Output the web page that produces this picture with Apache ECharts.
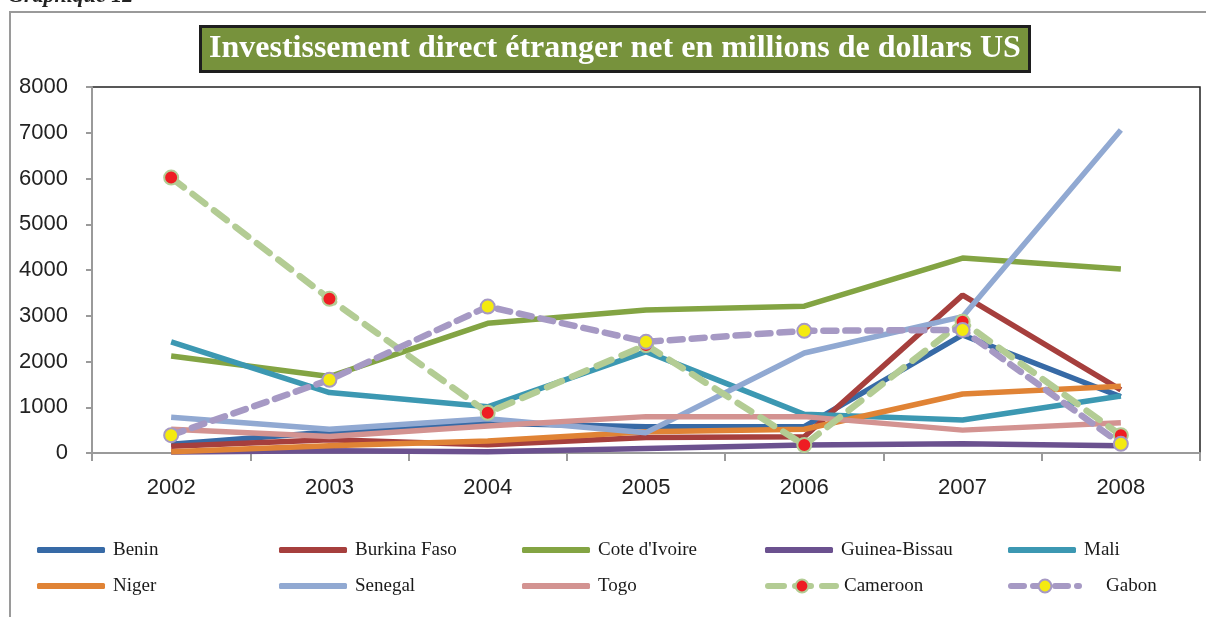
<!DOCTYPE html>
<html>
<head>
<meta charset="utf-8">
<script src="https://cdn.jsdelivr.net/npm/echarts@6/dist/echarts.min.js"></script>
<style>
  html, body { margin: 0; padding: 0; background: #fff; }
  #chart { width: 1206px; height: 617px; }
</style>
</head>
<body>
<div id="chart"></div>
<script>
// years on the x axis
const years = ['2002', '2003', '2004', '2005', '2006', '2007', '2008'];

// net FDI, millions USD
const benin = [190, 460, 650, 575, 575, 2580, 1230];
const burkinaFaso = [150, 290, 180, 340, 355, 3450, 1380];
const coteIvoire = [2120, 1670, 2835, 3125, 3210, 4260, 4020];
const guineaBissau = [20, 50, 25, 100, 175, 200, 160];
const mali = [2430, 1320, 1010, 2215, 845, 720, 1245];
const niger = [30, 160, 260, 465, 520, 1290, 1460];
const senegal = [780, 520, 750, 445, 2185, 2980, 7060];
const togo = [520, 360, 590, 795, 795, 500, 660];
const cameroon = [6020, 3370, 880, 2360, 175, 2870, 390];
const gabon = [390, 1600, 3200, 2430, 2670, 2690, 200];

const yTicks = [0, 1000, 2000, 3000, 4000, 5000, 6000, 7000, 8000];

const solid = [
    { name: 'Benin', data: benin, color: '#376aa6' },
    { name: 'Burkina Faso', data: burkinaFaso, color: '#a63f3d' },
    { name: "Cote d'Ivoire", data: coteIvoire, color: '#83a443' },
    { name: 'Guinea-Bissau', data: guineaBissau, color: '#6b518f' },
    { name: 'Mali', data: mali, color: '#3c98b2' },
    { name: 'Niger', data: niger, color: '#e08335' },
    { name: 'Senegal', data: senegal, color: '#91a9d2' },
    { name: 'Togo', data: togo, color: '#d39391' }
];
const dashed = [
    { name: 'Cameroon', data: cameroon, color: '#b3cc94', fill: '#ee1d23', dash: [16, 11] },
    { name: 'Gabon', data: gabon, color: '#a699c4', fill: '#f4ea10', dash: [13, 9] }
];

const series = []
solid.forEach(s => {
    series.push({
        name: s.name,
        type: 'line',
        data: s.data,
        symbol: 'none',
        color: s.color,
        lineStyle: { width: 5.5, color: s.color },
        animation: false
    })
})
dashed.forEach(s => {
    series.push({
        name: s.name,
        type: 'line',
        data: s.data,
        symbol: 'circle',
        symbolSize: 14,
        showAllSymbol: true,
        color: s.color,
        itemStyle: { color: s.fill, borderColor: s.color, borderWidth: 2 },
        lineStyle: { width: 6.5, color: s.color, type: s.dash, cap: 'round' },
        z: 3,
        animation: false
    })
})

// one legend per entry so the columns line up like the original
const colX = [37, 279, 522, 765, 1008];
const rowY = [550, 586];
const legendText = (name) => ({
    fontFamily: 'Liberation Serif',
    fontSize: 19,
    lineHeight: 22,
    color: '#1a1a1a',
    padding: name === 'Gabon' ? [0, 0, 0, 22] : [0, 0, 0, 3]
})
const legends = []
solid.forEach((s, i) => {
    legends.push({
        data: [s.name],
        left: colX[i % 5],
        top: rowY[Math.floor(i / 5)] - 11,
        icon: 'roundRect',
        itemWidth: 68,
        itemHeight: 6,
        padding: 0,
        textStyle: legendText(s.name)
    })
})
dashed.forEach((s, j) => {
    const i = solid.length + j
    legends.push({
        data: [s.name],
        left: colX[i % 5],
        top: rowY[Math.floor(i / 5)] - 11,
        itemWidth: 68,
        itemHeight: 16,
        padding: 0,
        lineStyle: { width: 6 },
        textStyle: legendText(s.name)
    })
})

const chart = echarts.init(document.getElementById('chart'), null, { renderer: 'canvas' });
chart.setOption({
    backgroundColor: '#fff',
    animation: false,
    title: {
        text: 'Investissement direct étranger net en millions de dollars US',
        left: 200,
        top: 26,
        padding: [7, 9, 7, 9],
        backgroundColor: '#77923c',
        borderColor: '#1e1e1e',
        borderWidth: 3,
        textStyle: {
            fontFamily: 'Liberation Serif',
            fontWeight: 'bold',
            fontSize: 32,
            color: '#ffffff'
        }
    },
    legend: legends,
    grid: {
        left: 92,
        top: 87,
        right: 6,
        bottom: 164,
        show: true,
        borderColor: '#222',
        borderWidth: 1.5
    },
    xAxis: {
        type: 'category',
        data: years,
        boundaryGap: true,
        axisLine: { lineStyle: { color: '#9a9a9a', width: 2 } },
        axisTick: { show: true, length: 8, lineStyle: { color: '#9a9a9a', width: 2 } },
        axisLabel: {
            margin: 24,
            fontFamily: 'Liberation Sans',
            fontSize: 22,
            color: '#222'
        }
    },
    yAxis: {
        type: 'value',
        min: yTicks[0],
        max: yTicks[yTicks.length - 1],
        interval: 1000,
        splitLine: { show: false },
        axisLine: { show: true, lineStyle: { color: '#9a9a9a', width: 2 } },
        axisTick: { show: true, length: 6, lineStyle: { color: '#9a9a9a', width: 2 } },
        axisLabel: {
            margin: 24,
            fontFamily: 'Liberation Sans',
            fontSize: 22,
            color: '#222',
            formatter: v => String(v)
        }
    },
    graphic: [
        {
            type: 'rect',
            shape: { x: 10, y: 12, width: 1400, height: 800 },
            style: { fill: null, stroke: '#9a9a9a', lineWidth: 2 },
            silent: true
        },
        {
            type: 'text',
            left: 8,
            top: -15,
            style: {
                text: 'Graphique 12',
                fontFamily: 'Liberation Serif',
                fontStyle: 'italic',
                fontWeight: 'bold',
                fontSize: 22,
                fill: '#222'
            }
        }
    ],
    series: series
});
</script>
</body>
</html>
